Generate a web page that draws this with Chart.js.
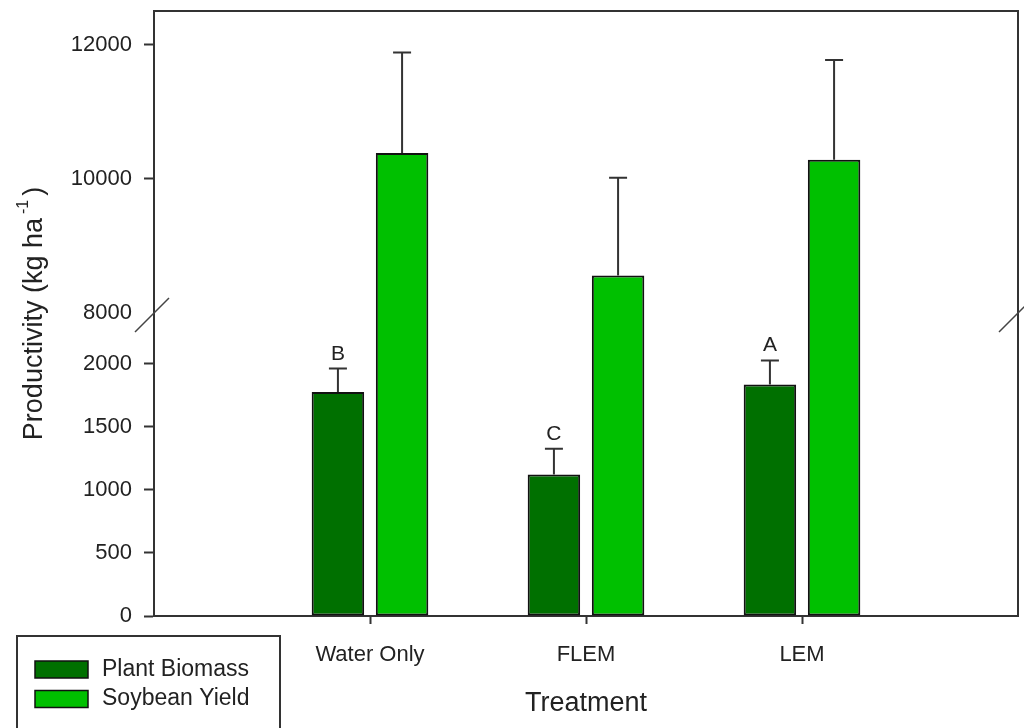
<!DOCTYPE html>
<html>
<head>
<meta charset="utf-8">
<script src="https://cdn.jsdelivr.net/npm/chart.js@4.4.1/dist/chart.umd.min.js"></script>
<style>
  html, body { margin: 0; padding: 0; background: #ffffff; }
  canvas { display: block; }
</style>
</head>
<body>
<canvas id="chart" width="1024" height="728"></canvas>
<script>
// Treatments and measured productivity (kg ha^-1), with upper error bars
const treatments = ['Water Only', 'FLEM', 'LEM'];
const plantBiomass = [1775, 1120, 1833];
const plantBiomassErr = [185, 205, 191];
const soybeanYield = [10383, 8558, 10284];
const soybeanYieldErr = [1497, 1458, 1487];
const groupLetters = ['B', 'C', 'A'];

// Broken value axis: a lower and an upper segment
const lowerRange = [0, 2400];
const upperRange = [8000, 12500];
const lowerTicks = [0, 500, 1000, 1500, 2000];
const upperTicks = [8000, 10000, 12000];

const FONT = '"Liberation Sans", Arial, sans-serif';
const INK = '#222222';
const LINE = '#333333';
const DARK_GREEN = '#007000';
const LIGHT_GREEN = '#00c000';

// empty slots either side of the three treatments
const pad = arr => [null, ...arr, null];
const categoryLabels = ['', ...treatments, ''];

const errorBarsAndLetters = {
  id: 'errorBarsAndLetters',
  afterDatasetsDraw(chart) {
    const ctx = chart.ctx;
    const yLow = chart.scales.yLow, yHigh = chart.scales.yHigh;
    const drawErr = (meta, scale, values, errs, letters) => {
      values.forEach((v, i) => {
        const bar = meta.data[i + 1];
        const x = bar.x;
        const y0 = scale.getPixelForValue(v);
        const y1 = scale.getPixelForValue(v + errs[i]);
        ctx.save();
        ctx.strokeStyle = LINE;
        ctx.lineWidth = 2;
        ctx.beginPath();
        ctx.moveTo(x, y0);
        ctx.lineTo(x, y1);
        ctx.moveTo(x - 9, y1);
        ctx.lineTo(x + 9, y1);
        ctx.stroke();
        if (letters) {
          ctx.fillStyle = INK;
          ctx.font = '21px ' + FONT;
          ctx.textAlign = 'center';
          ctx.textBaseline = 'alphabetic';
          ctx.fillText(letters[i], x, y1 - 9);
        }
        ctx.restore();
      });
    };
    drawErr(chart.getDatasetMeta(0), yLow, plantBiomass, plantBiomassErr, groupLetters);
    drawErr(chart.getDatasetMeta(2), yHigh, soybeanYield, soybeanYieldErr, null);
  }
};

const frameAndDecor = {
  id: 'frameAndDecor',
  afterDraw(chart) {
    const ctx = chart.ctx;
    const a = chart.chartArea;
    const breakY = chart.scales.yHigh.bottom;
    ctx.save();
    // top and right sides of the plot frame
    ctx.strokeStyle = LINE;
    ctx.lineWidth = 2;
    ctx.beginPath();
    ctx.moveTo(a.left - 1, a.top);
    ctx.lineTo(a.right, a.top);
    ctx.lineTo(a.right, a.bottom + 1);
    ctx.stroke();
    // axis-break marks
    ctx.strokeStyle = '#444444';
    ctx.lineWidth = 1.5;
    ctx.beginPath();
    ctx.moveTo(a.left - 19, breakY + 19);
    ctx.lineTo(a.left + 15, breakY - 15);
    ctx.moveTo(a.right - 19, breakY + 19);
    ctx.lineTo(a.right + 15, breakY - 15);
    ctx.stroke();

    // value-axis title with superscript
    const cx = 35, cy = (a.top + a.bottom) / 2;
    const main = 'Productivity (kg ha';
    const sup = '-1';
    const close = ')';
    ctx.fillStyle = INK;
    ctx.font = '27px ' + FONT;
    const wMain = ctx.measureText(main).width;
    const wClose = ctx.measureText(close).width;
    ctx.font = '16px ' + FONT;
    const wSup = ctx.measureText(sup).width;
    const gap = 4;
    const total = wMain + gap + wSup + gap + wClose;
    ctx.translate(cx, cy);
    ctx.rotate(-Math.PI / 2);
    ctx.textBaseline = 'middle';
    ctx.textAlign = 'left';
    let x = -total / 2;
    ctx.font = '27px ' + FONT;
    ctx.fillText(main, x, 0);
    x += wMain + gap;
    ctx.font = '16px ' + FONT;
    ctx.fillText(sup, x, -11);
    x += wSup + gap;
    ctx.font = '27px ' + FONT;
    ctx.fillText(close, x, 0);
    ctx.restore();

    // legend box
    ctx.save();
    ctx.strokeStyle = LINE;
    ctx.lineWidth = 2;
    ctx.strokeRect(17, 636, 263, 120);
    const entries = [chart.data.datasets[0], chart.data.datasets[2]];
    entries.forEach((ds, i) => {
      const y = 661 + i * 29.5;
      ctx.fillStyle = ds.backgroundColor;
      ctx.fillRect(35, y, 53, 17);
      ctx.strokeStyle = '#111111';
      ctx.lineWidth = 1.5;
      ctx.strokeRect(35, y, 53, 17);
      ctx.fillStyle = INK;
      ctx.font = '23px ' + FONT;
      ctx.textAlign = 'left';
      ctx.textBaseline = 'middle';
      ctx.fillText(ds.label, 102, y + 8.5);
    });
    ctx.restore();
  }
};

const yTickCommon = {
  color: INK,
  font: { family: FONT, size: 22 },
  padding: 12,
  callback: v => String(v)
};

// fixed axis box sizes, without edge padding for half-labels
const fitY = scale => {
  scale.width = 154;
  scale.paddingTop = 0;
  scale.paddingBottom = 0;
};
const fitX = scale => {
  scale.height = 112;
  scale.paddingLeft = 0;
  scale.paddingRight = 0;
};

new Chart(document.getElementById('chart'), {
  type: 'bar',
  data: {
    labels: categoryLabels,
    datasets: [
      {
        label: 'Plant Biomass',
        data: pad(plantBiomass),
        yAxisID: 'yLow',
        stack: 'bio',
        backgroundColor: DARK_GREEN,
        borderColor: '#111111',
        borderWidth: 2,
        borderSkipped: false
      },
      {
        label: 'Soybean Yield',
        data: pad(soybeanYield.map(v => Math.min(v, lowerRange[1]))),
        yAxisID: 'yLow',
        stack: 'soy',
        backgroundColor: LIGHT_GREEN,
        borderColor: '#111111',
        borderWidth: 2,
        borderSkipped: 'top'
      },
      {
        label: 'Soybean Yield',
        data: pad(soybeanYield),
        yAxisID: 'yHigh',
        stack: 'soy',
        backgroundColor: LIGHT_GREEN,
        borderColor: '#111111',
        borderWidth: 2,
        borderSkipped: 'bottom'
      }
    ]
  },
  options: {
    responsive: false,
    animation: false,
    events: [],
    categoryPercentage: 0.594,
    barPercentage: 0.818,
    layout: { padding: { left: 0, right: 6, top: 11, bottom: 0 } },
    plugins: {
      legend: { display: false },
      tooltip: { enabled: false },
      title: { display: false }
    },
    scales: {
      x: {
        type: 'category',
        offset: false,
        grid: {
          offset: false,
          drawOnChartArea: false,
          tickLength: 8,
          tickWidth: 2,
          tickColor: ctx => (ctx.tick && ctx.tick.label ? LINE : 'rgba(0,0,0,0)')
        },
        border: { color: LINE, width: 2 },
        ticks: {
          color: INK,
          font: { family: FONT, size: 22 },
          padding: 18,
          autoSkip: false,
          maxRotation: 0
        },
        title: {
          display: true,
          text: 'Treatment',
          color: INK,
          font: { family: FONT, size: 27 },
          padding: { top: 0, bottom: 8 }
        },
        afterFit: fitX
      },
      yHigh: {
        type: 'linear',
        position: 'left',
        stack: 'value',
        stackWeight: 302,
        weight: 2,
        stacked: false,
        min: upperRange[0],
        max: upperRange[1],
        grid: {
          drawOnChartArea: false,
          tickLength: 10,
          tickWidth: 2,
          tickColor: ctx => (ctx.tick && ctx.tick.value === upperRange[0] ? 'rgba(0,0,0,0)' : LINE)
        },
        border: { color: LINE, width: 2 },
        ticks: yTickCommon,
        afterBuildTicks: scale => { scale.ticks = upperTicks.map(v => ({ value: v })); },
        afterFit: fitY
      },
      yLow: {
        type: 'linear',
        position: 'left',
        stack: 'value',
        stackWeight: 303,
        weight: 1,
        stacked: false,
        min: lowerRange[0],
        max: lowerRange[1],
        grid: {
          drawOnChartArea: false,
          tickLength: 10,
          tickWidth: 2,
          tickColor: LINE
        },
        border: { color: LINE, width: 2 },
        ticks: yTickCommon,
        afterBuildTicks: scale => { scale.ticks = lowerTicks.map(v => ({ value: v })); },
        afterFit: fitY
      }
    }
  },
  plugins: [errorBarsAndLetters, frameAndDecor]
});
</script>
</body>
</html>
